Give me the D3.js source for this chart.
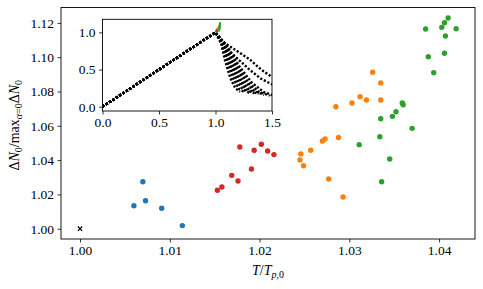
<!DOCTYPE html>
<html>
<head>
<meta charset="utf-8">
<script src="https://cdn.jsdelivr.net/npm/d3@7"></script>
<style>
  html, body { margin: 0; padding: 0; background: #fff; }
  svg { display: block; font-family: "Liberation Serif", "Times New Roman", serif; }
</style>
</head>
<body>
<div id="chart"></div>
<script>
// ---------------------------------------------------------------------------
// ΔN0 / max ΔN0  vs  T / T_p,0   (main scatter + inset with full curves)
// ---------------------------------------------------------------------------

// reference point (black cross)
const refX = [1.0];
const refY = [1.0];

// scatter series
const blueX   = [1.0060, 1.0070, 1.0073, 1.0091, 1.0114];
const blueY   = [1.0134, 1.0274, 1.0163, 1.0119, 1.0018];
const redX    = [1.0153, 1.0158, 1.0169, 1.0176, 1.0178, 1.0191, 1.0194, 1.0202, 1.0209, 1.0216];
const redY    = [1.0224, 1.0243, 1.0311, 1.0278, 1.0476, 1.0348, 1.0457, 1.0492, 1.0453, 1.0432];
const orangeX = [1.0246, 1.0245, 1.0249, 1.0257, 1.0270, 1.0273, 1.0277, 1.0288, 1.0285, 1.0293,
                 1.0303, 1.0312, 1.0319, 1.0326, 1.0335, 1.0335];
const orangeY = [1.0436, 1.0401, 1.0367, 1.0457, 1.0511, 1.0523, 1.0290, 1.0532, 1.0711, 1.0185,
                 1.0733, 1.0770, 1.0750, 1.0912, 1.0850, 1.0750];
const greenX  = [1.0311, 1.0334, 1.0335, 1.0348, 1.0352, 1.0359, 1.0360, 1.0370, 1.0385, 1.0388,
                 1.0394, 1.0403, 1.0406, 1.0410, 1.0407, 1.0406, 1.0419, 1.0345, 1.0336];
const greenY  = [1.0490, 1.0536, 1.0641, 1.0655, 1.0682, 1.0733, 1.0723, 1.0585, 1.1164, 1.1003,
                 1.0910, 1.1174, 1.1201, 1.1229, 1.1124, 1.1023, 1.1166, 1.0406, 1.0274];

// inset: common rising part, then the fan of decaying curves
const risePts = [[0, 0], [1, 1]];
const fanCurves = [
  [[1.045, 0.88], [1.085, 0.62], [1.130, 0.39], [1.175, 0.25], [1.217, 0.20]],
  [[1.052, 0.87], [1.104, 0.60], [1.156, 0.38], [1.208, 0.24], [1.260, 0.19]],
  [[1.060, 0.86], [1.120, 0.58], [1.180, 0.37], [1.240, 0.235], [1.300, 0.185]],
  [[1.068, 0.85], [1.136, 0.57], [1.204, 0.36], [1.272, 0.23], [1.340, 0.18]],
  [[1.076, 0.84], [1.152, 0.56], [1.228, 0.35], [1.304, 0.22], [1.380, 0.17]],
  [[1.086, 0.83], [1.172, 0.55], [1.258, 0.34], [1.344, 0.21], [1.430, 0.16]],
  [[1.096, 0.82], [1.192, 0.54], [1.288, 0.33], [1.384, 0.20], [1.480, 0.15]],
  [[1.106, 0.81], [1.212, 0.54], [1.318, 0.33], [1.424, 0.20], [1.530, 0.14]],
  [[1.040, 0.88], [1.100, 0.78], [1.200, 0.64], [1.300, 0.50], [1.400, 0.38], [1.500, 0.30]],
  [[1.040, 0.90], [1.100, 0.84], [1.200, 0.74], [1.300, 0.64], [1.400, 0.505], [1.500, 0.40]]
];

// ticks
const xTicks      = [1.00, 1.01, 1.02, 1.03, 1.04];
const yTicks      = [1.00, 1.02, 1.04, 1.06, 1.08, 1.10, 1.12];
const insetXTicks = [0, 0.5, 1.0, 1.5];
const insetYTicks = [0, 0.5, 1.0];

const series = [
  { xs: blueX,   ys: blueY,   color: '#1f77b4' },
  { xs: redX,    ys: redY,    color: '#d62728' },
  { xs: orangeX, ys: orangeY, color: '#ff7f0e' },
  { xs: greenX,  ys: greenY,  color: '#2ca02c' }
];

const W = 483, H = 289;
const svg = d3.select('#chart').append('svg')
  .attr('width', W).attr('height', H);

// --- main axes -------------------------------------------------------------
const plot = { left: 61, right: 475, top: 7.5, bottom: 239 };
const x = d3.scaleLinear().domain([0.99788, 1.0440]).range([plot.left, plot.right]);
const y = d3.scaleLinear().domain([0.99399, 1.12898]).range([plot.bottom, plot.top]);

svg.append('g')
    .attr('transform', `translate(0,${plot.bottom})`)
    .call(d3.axisBottom(x).tickValues(xTicks).tickFormat(d3.format('.2f')).tickSize(3.5).tickPadding(3))
    .call(g => g.select('.domain').remove());

svg.append('g')
    .attr('transform', `translate(${plot.left},0)`)
    .call(d3.axisLeft(y).tickValues(yTicks).tickFormat(d3.format('.2f')).tickSize(3.5).tickPadding(3.5))
    .call(g => g.select('.domain').remove());

svg.selectAll('.tick text').attr('font-size', 13.5).attr('font-family', '"Liberation Serif", serif').attr('fill', '#000');
svg.selectAll('.tick line').attr('stroke', '#000').attr('stroke-width', 0.8);

// scatter points
series.forEach(s => {
  svg.append('g')
    .selectAll('circle')
    .data(d3.range(s.xs.length))
    .join('circle')
      .attr('cx', i => x(s.xs[i]))
      .attr('cy', i => y(s.ys[i]))
      .attr('r', 2.7)
      .attr('fill', s.color);
});

// black cross
const crossSym = d3.symbol().type(d3.symbolX).size(14);
svg.append('g')
  .selectAll('path')
  .data(d3.range(refX.length))
  .join('path')
    .attr('transform', i => `translate(${x(refX[i])},${y(refY[i])})`)
    .attr('d', crossSym)
    .attr('fill', 'none')
    .attr('stroke', '#000')
    .attr('stroke-width', 1.3);

// frame
svg.append('rect')
  .attr('x', plot.left).attr('y', plot.top)
  .attr('width', plot.right - plot.left).attr('height', plot.bottom - plot.top)
  .attr('fill', 'none').attr('stroke', '#000').attr('stroke-width', 0.9);

// axis labels
const xLab = svg.append('text')
  .attr('x', (plot.left + plot.right) / 2).attr('y', 275)
  .attr('text-anchor', 'middle').attr('font-size', 14);
xLab.append('tspan').attr('font-style', 'italic').text('T');
xLab.append('tspan').text('/');
xLab.append('tspan').attr('font-style', 'italic').text('T');
xLab.append('tspan').attr('dy', 3).attr('font-size', 10).attr('font-style', 'italic').text('p');
xLab.append('tspan').attr('font-size', 10).text(',0');

const yLab = svg.append('text')
  .attr('transform', `translate(19,${(plot.top + plot.bottom) / 2 + 2}) rotate(-90)`)
  .attr('text-anchor', 'middle').attr('font-size', 14);
yLab.append('tspan').text('Δ');
yLab.append('tspan').attr('font-style', 'italic').text('N');
yLab.append('tspan').attr('dy', 3).attr('font-size', 10).text('0');
yLab.append('tspan').attr('dy', -3).text('/max');
yLab.append('tspan').attr('dy', 3).attr('font-size', 10).attr('font-style', 'italic').text('α');
yLab.append('tspan').attr('font-size', 10).text('=0');
yLab.append('tspan').attr('dy', -3).text('Δ');
yLab.append('tspan').attr('font-style', 'italic').text('N');
yLab.append('tspan').attr('dy', 3).attr('font-size', 10).text('0');

// --- inset -----------------------------------------------------------------
const ins = { left: 102.5, right: 272, top: 19.3, bottom: 111 };
const ix = d3.scaleLinear().domain([0, 1.5]).range([ins.left, ins.right]);
const iy = d3.scaleLinear().domain([-0.057, 1.176]).range([ins.bottom, ins.top]);

const inset = svg.append('g');
inset.append('rect')
  .attr('x', ins.left).attr('y', ins.top)
  .attr('width', ins.right - ins.left).attr('height', ins.bottom - ins.top)
  .attr('fill', '#fff');

svg.append('clipPath').attr('id', 'insetClip')
  .append('rect')
    .attr('x', ins.left).attr('y', ins.top)
    .attr('width', ins.right - ins.left).attr('height', ins.bottom - ins.top);

const body = inset.append('g').attr('clip-path', 'url(#insetClip)');
const line = d3.line().x(d => ix(d[0])).y(d => iy(d[1]));

body.append('g')
  .selectAll('path')
  .data(fanCurves)
  .join('path')
    .attr('d', c => line(risePts.concat(c)))
    .attr('fill', 'none')
    .attr('stroke', '#000')
    .attr('stroke-width', 2.4)
    .attr('stroke-dasharray', '2.2,1.8');

// the same scatter, squeezed at the peak
series.forEach(s => {
  body.append('g')
    .selectAll('circle')
    .data(d3.range(s.xs.length))
    .join('circle')
      .attr('cx', i => ix(s.xs[i]))
      .attr('cy', i => iy(s.ys[i]))
      .attr('r', 1)
      .attr('fill', s.color);
});

inset.append('g')
    .attr('transform', `translate(0,${ins.bottom})`)
    .call(d3.axisBottom(ix).tickValues(insetXTicks).tickFormat(d3.format('.1f')).tickSize(3.5).tickPadding(3))
    .call(g => g.select('.domain').remove());
inset.append('g')
    .attr('transform', `translate(${ins.left},0)`)
    .call(d3.axisLeft(iy).tickValues(insetYTicks).tickFormat(d3.format('.1f')).tickSize(3.5).tickPadding(3.5))
    .call(g => g.select('.domain').remove());

inset.selectAll('.tick text').attr('font-size', 13.5).attr('font-family', '"Liberation Serif", serif').attr('fill', '#000');
inset.selectAll('.tick line').attr('stroke', '#000').attr('stroke-width', 0.8);

inset.append('rect')
  .attr('x', ins.left).attr('y', ins.top)
  .attr('width', ins.right - ins.left).attr('height', ins.bottom - ins.top)
  .attr('fill', 'none').attr('stroke', '#000').attr('stroke-width', 0.9);
</script>
</body>
</html>
